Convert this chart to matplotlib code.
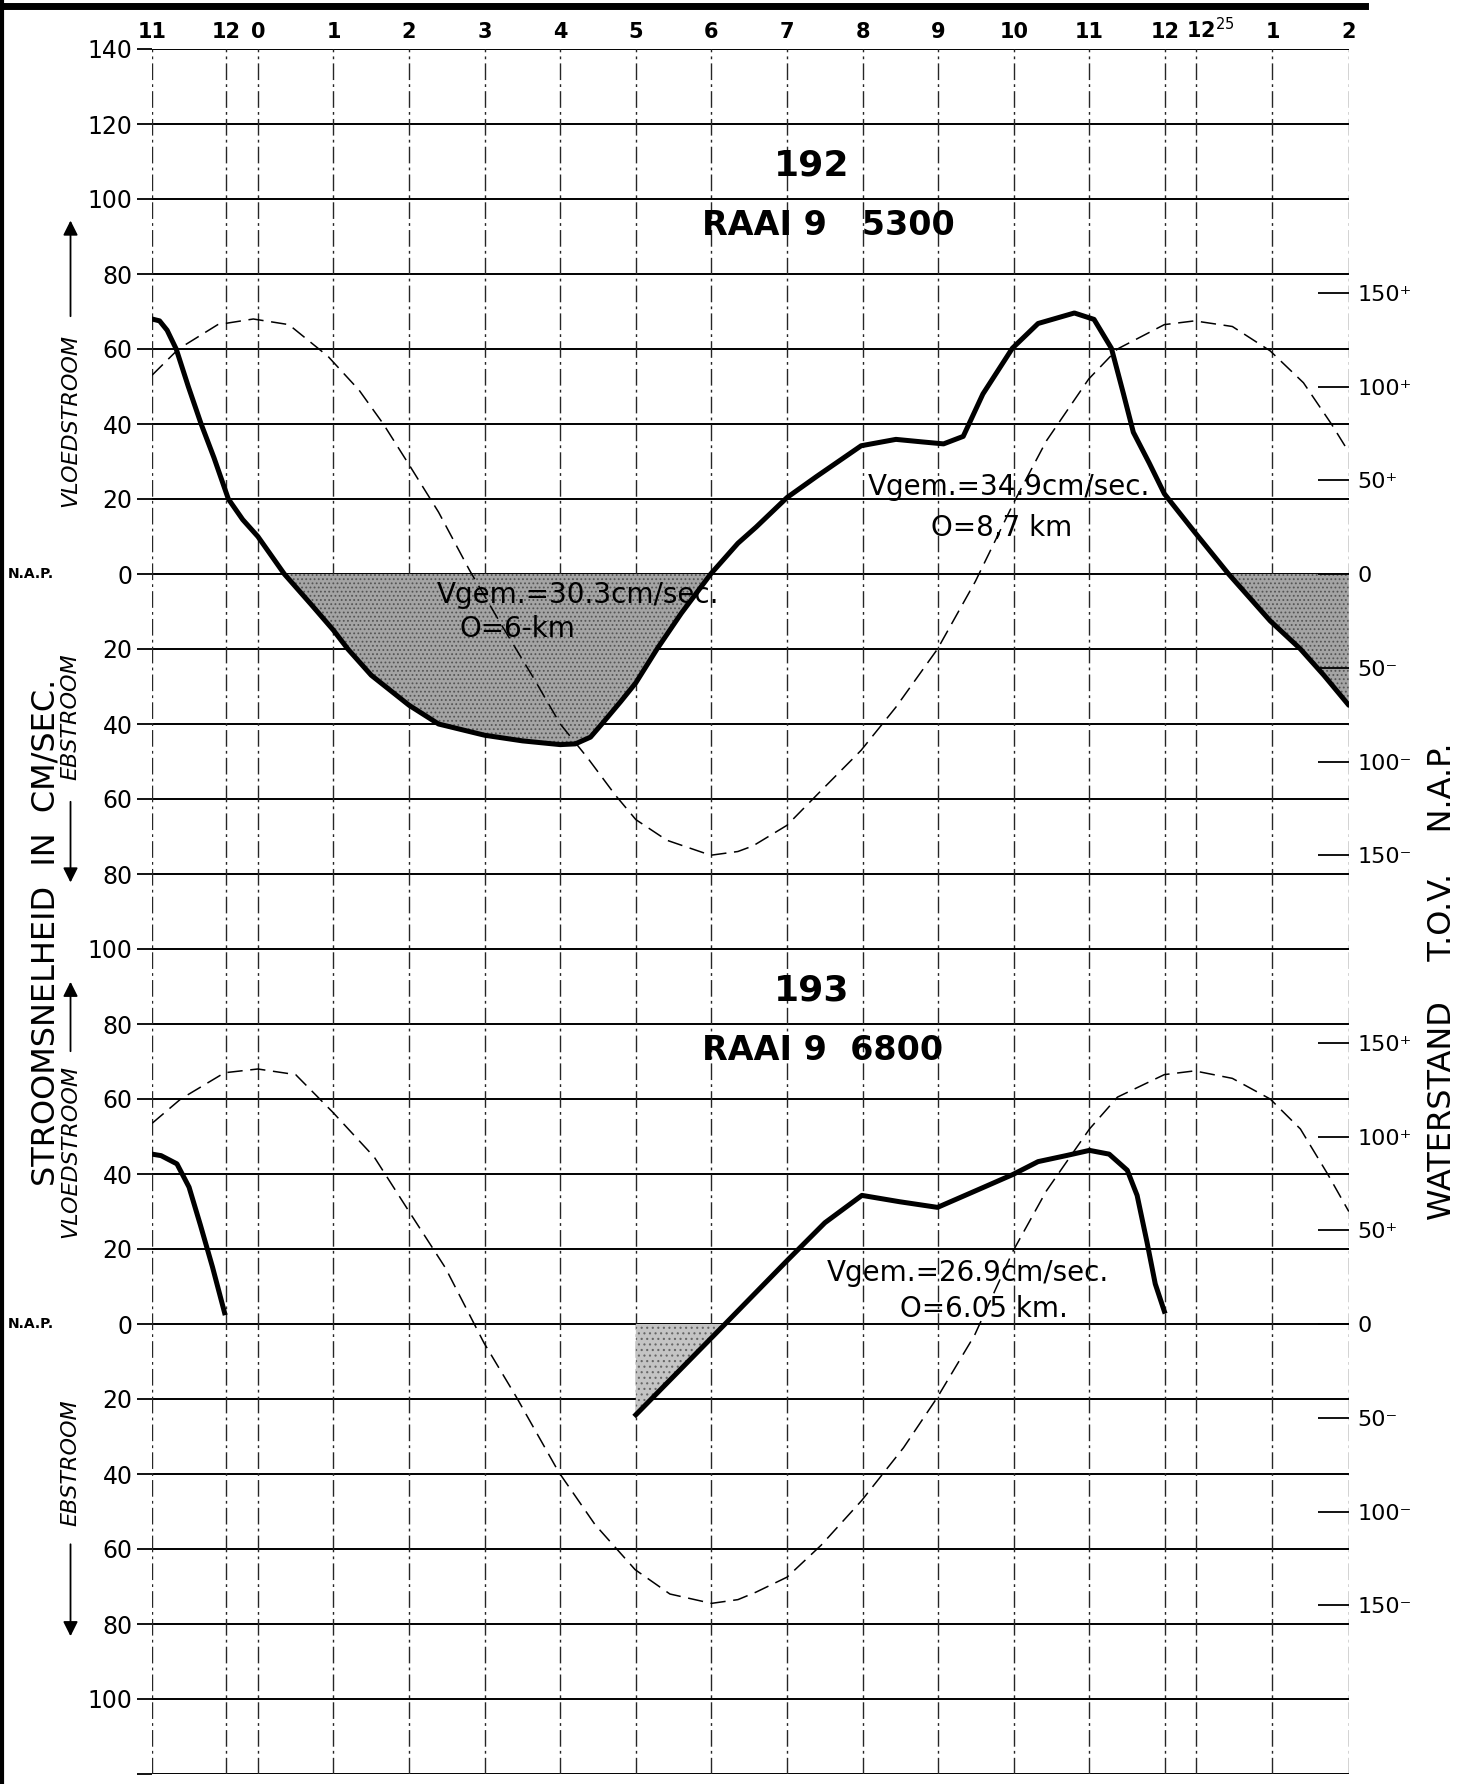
import matplotlib
matplotlib.use("Agg")
import matplotlib.pyplot as plt
import numpy as np
from matplotlib.lines import Line2D
from matplotlib.transforms import blended_transform_factory

plt.rcParams["hatch.linewidth"] = 0.8

# ---------------- data ----------------
hour_pos = [-1.4, -0.42, 0, 1, 2, 3, 4, 5, 6, 7, 8, 9, 10, 11, 12, 12.41, 13.42, 14.43]
hour_labels = ["11", "12", "0", "1", "2", "3", "4", "5", "6", "7", "8", "9", "10",
               "11", "12", "12$^{25}$", "1", "2"]

water_ticks = [150, 100, 50, 0, -50, -100, -150]
water_labels = ["150\u207a", "100\u207a", "50\u207a", "0", "50\u207b", "100\u207b", "150\u207b"]

# 192 : RAAI 9 5300 -- current velocity (cm/sec, flood +)
t192 = [-1.40, -1.30, -1.20, -1.08, -0.92, -0.75, -0.58, -0.39, -0.20, 0.00, 0.35, 0.70,
        1.00, 1.19, 1.50, 2.00, 2.39, 3.00, 3.50, 4.00, 4.20, 4.40, 4.55, 4.80, 5.00,
        5.28, 5.60, 5.99, 6.35, 6.59, 7.00, 7.39, 7.98, 8.44, 8.80, 9.07, 9.33, 9.59,
        9.98, 10.32, 10.80, 11.06, 11.29, 11.45, 11.58, 11.79, 11.99, 12.39, 12.84,
        13.39, 13.79, 14.10, 14.43]
v192 = [68, 67.5, 65, 60, 50, 40, 31, 20, 14.5, 10, 0, -8,
        -15, -20, -27, -35, -40, -43, -44.5, -45.5, -45.3, -43.5, -40, -34, -29,
        -20, -10.5, 0, 8.2, 12.5, 20.4, 26, 34.2, 35.9, 35.2, 34.7, 36.7, 48,
        60.2, 66.8, 69.6, 67.9, 60.2, 48, 37.8, 29.6, 21.4, 11.2, 0,
        -12.5, -20, -27, -35]
# 192 : water level (cm t.o.v. N.A.P.)
tw192 = [-1.40, -1.05, -0.53, -0.06, 0.41, 0.93, 1.34, 1.66, 2.02, 2.39, 2.80, 3.22,
         3.64, 4.00, 4.36, 4.73, 5.00, 5.41, 5.99, 6.35, 6.55, 7.00, 7.39, 7.98, 8.44,
         8.99, 9.49, 10.01, 10.43, 10.99, 11.37, 11.99, 12.39, 12.89, 13.39, 13.83,
         14.20, 14.43]
w192 = [106, 120, 133, 136, 133, 116, 98, 80, 57, 33, 2, -27,
        -55, -80, -98, -118, -131, -142, -150, -148, -145, -134, -118, -94, -71,
        -40, -4, 39, 71, 104, 120, 133, 135, 132, 119, 102,
        80, 65]

# 193 : RAAI 9 6800 -- current velocity (two measured pieces)
t193a = [-1.40, -1.28, -1.07, -0.91, -0.76, -0.60, -0.44]
v193a = [45.3, 44.9, 42.7, 36.5, 26.4, 15.2, 3]
t193b = [5.00, 6.18, 7.00, 7.50, 7.99, 8.49, 8.99, 9.48, 9.99, 10.32, 10.69, 11.00,
         11.26, 11.50, 11.63, 11.76, 11.87, 11.99]
v193b = [-24.2, 0, 16.9, 27, 34.3, 32.6, 31.1, 35.4, 39.9, 43.3, 44.9, 46.3,
         45.3, 41, 34.3, 21.9, 10.7, 3.4]
# 193 : water level
tw193 = [-1.40, -1.02, -0.44, 0.00, 0.50, 0.99, 1.54, 2.00, 2.48, 2.99, 3.42, 3.98,
         4.46, 4.99, 5.45, 6.00, 6.35, 6.59, 7.00, 7.45, 7.99, 8.54, 8.99, 9.48,
         9.99, 10.43, 11.00, 11.37, 11.99, 12.39, 12.89, 13.39, 13.79, 14.15, 14.43]
w193 = [107, 120, 134, 136, 133, 113, 89, 60, 30, -10, -39, -79,
        -107, -131, -144, -149, -147, -143, -135, -118, -94, -66, -39, -6,
        39, 71, 104, 121, 133, 135, 131, 120, 104, 80, 60]

# ---------------- layout ----------------
OFF = -200.0        # vertical offset of the lower diagram (cm/sec units)
K = 0.5             # cm/sec units per cm water level
YMIN, YMAX = -320, 140

fig = plt.figure(figsize=(14.69, 17.84), dpi=100)
ax = fig.add_axes([152 / 1469, 1 - 1774 / 1784, (1348.8 - 152) / 1469, (1774 - 49) / 1784])
ax.set_xlim(hour_pos[0], hour_pos[-1])
ax.set_ylim(YMIN, YMAX)
for s in ax.spines.values():
    s.set_visible(False)

# horizontal grid & left tick labels
yt = list(range(YMAX, YMIN - 1, -20))
ylab = []
for y in yt:
    if y >= -100:
        ylab.append(str(abs(y)))
    elif y >= -300:
        ylab.append(str(abs(int(y - OFF))))
    else:
        ylab.append("")
ax.set_yticks(yt)
ax.set_yticklabels(ylab, fontsize=17)
ax.tick_params(axis="y", length=11, width=1.3, pad=3, direction="out")
for y in yt:
    ax.axhline(y, color="black", lw=1.4, zorder=1)

# vertical grid with top labels
ax.set_xticks([])
top_tr = blended_transform_factory(ax.transData, ax.transAxes)
for x, lab in zip(hour_pos, hour_labels):
    ax.axvline(x, color="0.15", lw=1.0, ls=(0, (12, 3, 2, 3)), zorder=1)
    if "$" in lab:
        ax.text(x - 0.13, 1.004, lab, transform=top_tr, fontsize=15, fontweight="bold",
                ha="left", va="bottom")
    else:
        ax.text(x, 1.004, lab, transform=top_tr, fontsize=15, fontweight="bold",
                ha="center", va="bottom")

# right water-level axis
ax2 = ax.twinx()
ax2.set_ylim(YMIN, YMAX)
for s in ax2.spines.values():
    s.set_visible(False)
rpos = [K * w for w in water_ticks] + [OFF + K * w for w in water_ticks]
ax2.set_yticks(rpos)
ax2.set_yticklabels(water_labels + water_labels, fontsize=16)
ax2.tick_params(axis="y", direction="in", length=22, width=1.3, pad=6)

# ---------------- curves ----------------
t192a = np.array(t192); v192a = np.array(v192)
ax.fill_between(t192a, 0, v192a, where=v192a <= 0, interpolate=True,
                facecolor="#a4a4a4", edgecolor="#555555", linewidth=0, hatch="....", zorder=2)
ax.plot(t192a, v192a, color="black", lw=3.6, solid_capstyle="round", zorder=4)
ax.plot(tw192, [K * w for w in w192], color="black", lw=1.1, ls=(0, (10, 5)), zorder=3)

tb = np.array(t193b); vb = np.array(v193b)
ax.fill_between(tb, OFF, OFF + vb, where=vb <= 0, interpolate=True,
                facecolor="#c4c4c4", edgecolor="#666666", linewidth=0, hatch="...", zorder=2)
ax.plot(t193a, [OFF + v for v in v193a], color="black", lw=3.6, zorder=4)
ax.plot(tb, OFF + vb, color="black", lw=3.6, zorder=4)
ax.plot(tw193, [OFF + K * w for w in w193], color="black", lw=1.1, ls=(0, (10, 5)), zorder=3)

# ---------------- texts ----------------
ax.text(7.33, 109, "192", fontsize=26, fontweight="heavy", ha="center", va="center", zorder=6)
ax.text(7.55, 93, "RAAI 9   5300", fontsize=24, fontweight="bold", ha="center", va="center", zorder=6)
ax.text(7.33, OFF + 89, "193", fontsize=26, fontweight="heavy", ha="center", va="center", zorder=6)
ax.text(7.47, OFF + 73, "RAAI 9  6800", fontsize=24, fontweight="bold", ha="center", va="center", zorder=6)

ann_kw = dict(fontsize=20, ha="center", va="center", zorder=6)
ax.text(9.94, 23.2, "Vgem.=34.9cm/sec.", **ann_kw)
ax.text(9.84, 12.3, "O=8,7 km", **ann_kw)
ax.text(4.24, -5.6, "Vgem.=30.3cm/sec.", **ann_kw)
ax.text(3.44, -14.7, "O=6-km", **ann_kw)
ax.text(9.39, OFF + 13.6, "Vgem.=26.9cm/sec.", **ann_kw)
ax.text(9.61, OFF + 4, "O=6.05 km.", **ann_kw)

bt = blended_transform_factory(fig.transFigure, ax.transData)
ax.text(0.031, -95.7, "STROOMSNELHEID  IN  CM/SEC.", transform=bt, rotation=90,
        fontsize=23, ha="center", va="center")
ax.text(0.982, -108.5, "WATERSTAND    T.O.V.    N.A.P.", transform=bt, rotation=90,
        fontsize=23, ha="center", va="center")

for yc in (0, OFF):
    ax.text(0.021, yc, "N.A.P.", transform=bt, fontsize=10, fontweight="bold",
            ha="center", va="center")

side_x = 0.048
labels_side = [("VLOEDSTROOM", 41, 68, 95), ("EBSTROOM", -38, -60, -83),
               ("VLOEDSTROOM", OFF + 46, OFF + 72, OFF + 92), ("EBSTROOM", OFF - 37, OFF - 58, OFF - 84)]
for txt, yc, y0, y1 in labels_side:
    ax.text(side_x, yc, txt, transform=bt, rotation=90, fontsize=16, style="italic",
            ha="center", va="center")
    ax.annotate("", xy=(side_x, y1), xytext=(side_x, y0), xycoords=bt, textcoords=bt,
                arrowprops=dict(arrowstyle="-|>", lw=1.3, color="black", mutation_scale=22))

# page border artefacts (scan edges)
fig.add_artist(Line2D([0, 1365 / 1469], [1 - 6 / 1784, 1 - 6 / 1784], transform=fig.transFigure,
                      color="black", lw=5))
fig.add_artist(Line2D([2 / 1469, 2 / 1469], [0, 1], transform=fig.transFigure, color="black", lw=3))

fig.savefig("out.png", dpi=100, facecolor="white")
